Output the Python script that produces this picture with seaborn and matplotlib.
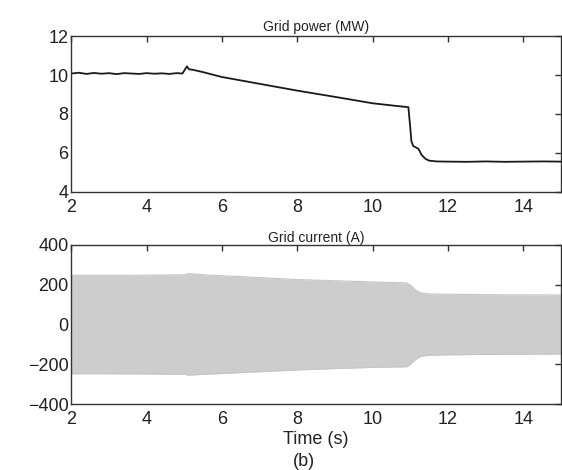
import matplotlib
matplotlib.use("Agg")
import matplotlib.pyplot as plt
import seaborn as sns
import pandas as pd

sns.set_theme(style="white")
plt.rcParams['font.family'] = ['Liberation Sans', 'DejaVu Sans']

# Grid power (MW)
power_t = [2.0, 2.2, 2.4, 2.6, 2.8, 3.0, 3.2, 3.4, 3.6, 3.8, 4.0, 4.2, 4.4, 4.6, 4.8,
           4.95, 5.02, 5.07, 5.12, 5.2, 5.3, 5.5, 6.0, 7.0, 8.0, 9.0, 10.0, 10.6, 10.95,
           11.0, 11.03, 11.08, 11.15, 11.22, 11.3, 11.4, 11.5, 11.7, 12.0, 12.5, 13.0,
           13.5, 14.0, 14.5, 15.0]
power_v = [10.08, 10.12, 10.06, 10.11, 10.07, 10.1, 10.05, 10.1, 10.08, 10.06, 10.1,
           10.07, 10.09, 10.06, 10.1, 10.08, 10.3, 10.45, 10.3, 10.28, 10.24, 10.15, 9.9,
           9.55, 9.2, 8.88, 8.55, 8.42, 8.35, 7.3, 6.6, 6.35, 6.28, 6.2, 5.9, 5.7, 5.6,
           5.56, 5.55, 5.54, 5.56, 5.54, 5.55, 5.56, 5.55]

# Grid current (A) envelope
curr_t = [2.0, 3.0, 4.0, 5.0, 5.1, 5.5, 6.0, 7.0, 8.0, 9.0, 10.0, 10.9, 11.0, 11.1,
          11.2, 11.3, 11.5, 12.0, 13.0, 14.0, 15.0]
curr_hi = [247, 247, 248, 250, 256, 250, 245, 236, 226, 220, 214, 209, 198, 180,
           166, 158, 154, 152, 150, 149, 148]
curr_lo = [-247, -247, -248, -250, -254, -250, -246, -237, -228, -221, -215, -212,
           -200, -182, -167, -159, -154, -152, -150, -149, -148]

fig = plt.figure(figsize=(5.62, 4.70), dpi=100)
ax1 = fig.add_axes([0.127, 0.592, 0.871, 0.331])
ax2 = fig.add_axes([0.127, 0.140, 0.871, 0.339])

dfp = pd.DataFrame({"t": power_t, "p": power_v})
sns.lineplot(data=dfp, x="t", y="p", ax=ax1, color="#1a1a1a", linewidth=1.3)

dfc = pd.DataFrame({"t": curr_t, "hi": curr_hi, "lo": curr_lo})
ax2.fill_between(dfc["t"], dfc["lo"], dfc["hi"], color="#cdcdcd", linewidth=0)
sns.lineplot(data=dfc, x="t", y="hi", ax=ax2, color="#c6c6c6", linewidth=0.8)
sns.lineplot(data=dfc, x="t", y="lo", ax=ax2, color="#c6c6c6", linewidth=0.8)

ax1.set_xlim(2, 15)
ax1.set_ylim(4, 12)
ax1.set_xticks([2, 4, 6, 8, 10, 12, 14])
ax1.set_yticks([4, 6, 8, 10, 12])
ax2.set_xlim(2, 15)
ax2.set_ylim(-400, 400)
ax2.set_xticks([2, 4, 6, 8, 10, 12, 14])
ax2.set_yticks([-400, -200, 0, 200, 400])
ax2.set_yticklabels(["\u2212400", "\u2212200", "0", "200", "400"])

for ax in (ax1, ax2):
    ax.set_xlabel("")
    ax.set_ylabel("")
    for s in ax.spines.values():
        s.set_color("#333333")
        s.set_linewidth(1.0)
    ax.tick_params(direction="in", length=4, width=1, color="#333333",
                   top=True, right=True, labelsize=13, labelcolor="#222222")
    ax.tick_params(axis="x", pad=5)
    ax.tick_params(axis="y", pad=2)

ax1.set_title("Grid power (MW)", fontsize=10, color="#222222", pad=4)
ax2.set_title("Grid current (A)", fontsize=10, color="#222222", pad=2)
ax2.set_xlabel("Time (s)", fontsize=13, color="#222222", labelpad=2)
fig.text(0.54, 0.008, "(b)", fontsize=13, color="#222222", ha="center")

fig.savefig("out.png", dpi=100, facecolor="white")
